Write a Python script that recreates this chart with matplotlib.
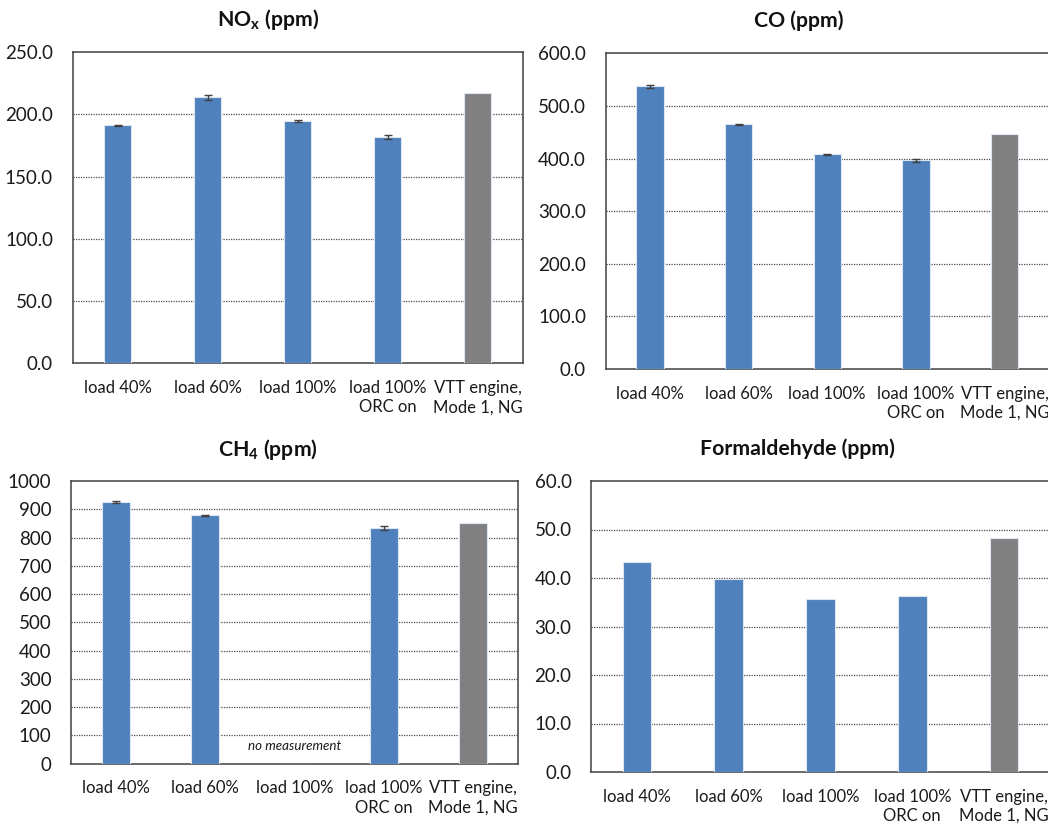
import matplotlib
matplotlib.use("Agg")
import matplotlib.pyplot as plt
import numpy as np

plt.rcParams["font.family"] = ["Lato", "DejaVu Sans"]
plt.rcParams["mathtext.fontset"] = "custom"
plt.rcParams["mathtext.rm"] = "Lato"
plt.rcParams["mathtext.bf"] = "Lato:bold"

categories = ["load 40%", "load 60%", "load 100%", "load 100%\nORC on", "VTT engine,\nMode 1, NG"]

nox_values = [191.2, 213.8, 194.8, 182.0, 216.8]
nox_errors = [0.5, 2.0, 0.7, 1.6, 0.0]

co_values = [537.0, 465.0, 408.0, 397.0, 447.0]
co_errors = [3.5, 1.0, 1.0, 3.0, 0.0]

ch4_values = [925.0, 879.0, np.nan, 834.0, 852.0]
ch4_errors = [3.0, 2.0, 0.0, 8.0, 0.0]

hcho_values = [43.3, 39.8, 35.7, 36.2, 48.3]

BLUE = "#4F81BD"
GREY = "#808080"
bar_colors = [BLUE, BLUE, BLUE, BLUE, GREY]

W, H = 1048, 824
fig = plt.figure(figsize=(W / 100, H / 100), dpi=100)


def make_axes(left, right, top, bottom):
    return fig.add_axes([left / W, 1 - bottom / H, (right - left) / W, (bottom - top) / H])


def draw_panel(ax, values, errors, ymax, step, fmt, title, title_x, title_y):
    x = np.arange(len(categories))
    vals = np.array(values, dtype=float)
    ax.bar(x, np.nan_to_num(vals), width=0.31, color=bar_colors,
           edgecolor="#DCE6F2", linewidth=0.8, zorder=3)
    if errors is not None:
        for i, (v, e) in enumerate(zip(vals, errors)):
            if e > 0 and not np.isnan(v):
                ax.errorbar(i, v, yerr=e, fmt="none", ecolor="#404040",
                            elinewidth=1.0, capsize=3, capthick=1.0, zorder=4)
    ax.set_xlim(-0.5, len(categories) - 0.5)
    ax.set_ylim(0, ymax)
    ticks = np.arange(0, ymax + step / 2, step)
    ax.set_yticks(ticks)
    ax.set_yticklabels([fmt.format(t) for t in ticks], fontsize=13.5, color="#1a1a1a")
    ax.set_xticks(x)
    ax.set_xticklabels(categories, fontsize=12, color="#1a1a1a", linespacing=1.25)
    ax.tick_params(axis="both", length=0)
    ax.tick_params(axis="y", pad=14)
    ax.tick_params(axis="x", pad=12)
    for t in ticks[1:-1]:
        ax.axhline(t, color="#4a4a4a", linestyle=(0, (1, 1)), linewidth=0.9, zorder=1)
    for s in ax.spines.values():
        s.set_color("#404040")
        s.set_linewidth(1.1)
    fig.text(title_x / W, 1 - title_y / H, title, ha="center", va="center",
             fontsize=15.3, fontweight="bold", color="#111111")
    return ax


ax1 = make_axes(72.5, 522.5, 52, 363.3)
draw_panel(ax1, nox_values, nox_errors, 250, 50, "{:.1f}",
           r"NO$_\mathbf{x}$ (ppm)", 268, 20)

ax2 = make_axes(605.5, 1049, 53.3, 369)
draw_panel(ax2, co_values, co_errors, 600, 100, "{:.1f}", "CO (ppm)", 799, 21)

ax3 = make_axes(71, 518, 481, 763.7)
draw_panel(ax3, ch4_values, ch4_errors, 1000, 100, "{:.0f}",
           r"CH$_\mathbf{4}$ (ppm)", 268, 449)
ax3.text(2, 63, "no measurement", ha="center", va="center",
         fontsize=9.6, style="italic", color="#1a1a1a", zorder=5)

ax4 = make_axes(591, 1050, 481, 772)
draw_panel(ax4, hcho_values, None, 60, 10, "{:.1f}",
           "Formaldehyde (ppm)", 797, 449)

fig.savefig("out.png", dpi=100, facecolor="white")
